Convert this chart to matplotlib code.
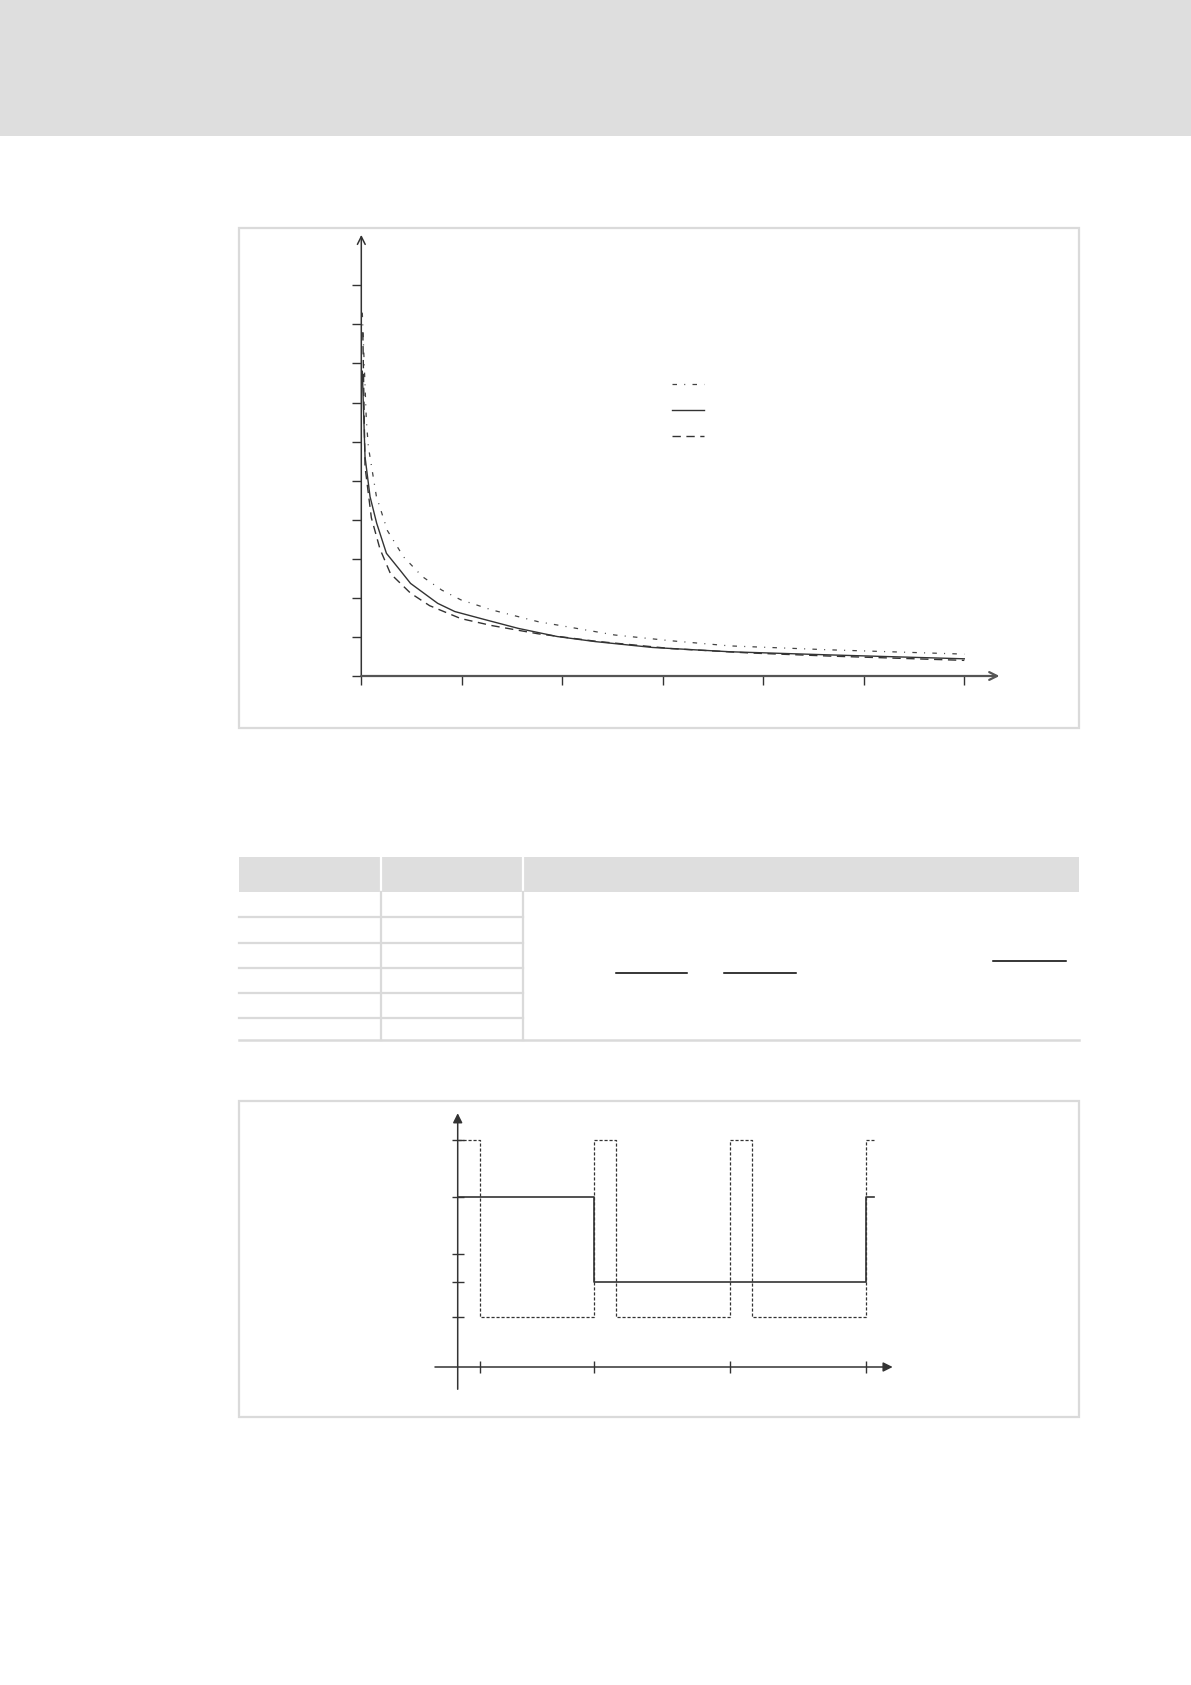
import numpy as np
import matplotlib
matplotlib.use("Agg")
import matplotlib.pyplot as plt
from matplotlib.patches import Rectangle

W, H = 1191, 1685
GRAY = '#dedede'
LINE = '#dadada'
INK = '#333333'

# --- Diagramm 1: drei fallende Kennlinien (Achsen 0..6 / 0..10) ---
x_ticks_1 = [0, 1, 2, 3, 4, 5, 6]
y_ticks_1 = [0, 1, 2, 3, 4, 5, 6, 7, 8, 9, 10]

x_dashdot = [0.01, 0.05, 0.07, 0.15, 0.26, 0.42, 0.61, 0.80, 0.99, 1.30, 1.76, 2.14, 2.52, 3.09, 3.67, 4.66, 6.0]
y_dashdot = [9.3, 6.55, 5.87, 4.6, 3.72, 3.05, 2.54, 2.20, 1.95, 1.69, 1.39, 1.22, 1.05, 0.90, 0.77, 0.67, 0.56]

x_solid = [0.01, 0.037, 0.087, 0.153, 0.25, 0.385, 0.49, 0.76, 0.93, 1.22, 1.56, 1.95, 2.33, 2.90, 3.67, 4.66, 6.0]
y_solid = [7.8, 5.61, 4.59, 3.91, 3.14, 2.71, 2.37, 1.86, 1.65, 1.45, 1.22, 1.01, 0.88, 0.73, 0.62, 0.54, 0.44]

x_dashed = [0.015, 0.037, 0.10, 0.186, 0.29, 0.49, 0.68, 0.99, 1.30, 1.76, 2.33, 3.09, 3.86, 4.66, 6.0]
y_dashed = [8.8, 5.36, 4.05, 3.25, 2.62, 2.12, 1.80, 1.47, 1.29, 1.08, 0.89, 0.70, 0.59, 0.51, 0.40]

# --- Diagramm 2: Taktsignal und Mittelwert ---
x_ticks_2 = [1.66, 10, 20, 30]
y_ticks_2 = [100, 75, 50, 37.3, 21.9]
t_pulse = [0, 1.66, 10, 11.66, 20, 21.65, 30, 30.6]
v_pulse = [100, 21.9, 100, 21.9, 100, 21.9, 100, 100]
t_mean = [0, 10, 30, 30.6]
v_mean = [75, 37.3, 75, 75]

# --- Tabelle (ohne Text) ---
table_cols = [238.6, 380.7, 522.7, 1079]
table_rows = [891.7, 917.3, 942.7, 967.7, 992.7, 1017.7, 1040.3]


def px_axes(fig, x0, x1, y0, y1):
    return fig.add_axes([x0 / W, 1 - y1 / H, (x1 - x0) / W, (y1 - y0) / H])


def origin_spines(ax):
    # Ticks am Nullpunkt, Achslinien selbst kommen als Pfeile
    for s in ['top', 'right']:
        ax.spines[s].set_visible(False)
    for s in ['left', 'bottom']:
        ax.spines[s].set_position(('data', 0))
        ax.spines[s].set_color('none')
    ax.patch.set_alpha(0)
    ax.set_xticklabels([])
    ax.set_yticklabels([])


fig = plt.figure(figsize=(W / 100, H / 100), dpi=100)

# Seitenebene in Pixelkoordinaten
page = fig.add_axes([0, 0, 1, 1])
page.set_xlim(0, W)
page.set_ylim(H, 0)
page.axis('off')

page.add_patch(Rectangle((0, 0), W, 135.7, color=GRAY, lw=0))
page.add_patch(Rectangle((238.6, 228.5), 840.4, 500, fill=False, ec=LINE, lw=1.6))
page.add_patch(Rectangle((238.6, 1101), 840.4, 316, fill=False, ec=LINE, lw=1.6))

# Tabellenkopf
page.add_patch(Rectangle((table_cols[0], 857.3), table_cols[-1] - table_cols[0], 891.7 - 857.3,
                         color=GRAY, lw=0))
for c in table_cols[1:-1]:
    page.plot([c, c], [857.3, 891.7], color='white', lw=1.6)
    page.plot([c, c], [891.7, table_rows[-1]], color=LINE, lw=1.6)
for r in table_rows[1:-1]:
    page.plot([table_cols[0], table_cols[2]], [r, r], color=LINE, lw=1.6)
page.plot([table_cols[0], table_cols[-1]], [table_rows[-1], table_rows[-1]], color=LINE, lw=1.8)

# Bruchstriche in der Formelspalte
for xa, xb, yy in [(616, 687.3, 973.3), (724, 795.7, 973.3), (993.3, 1066, 961)]:
    page.plot([xa, xb], [yy, yy], color='black', lw=1.1)

# ---------------- Diagramm 1 ----------------
ax1 = px_axes(fig, 330, 1010, 230, 690)
ax1.set_xlim((330 - 361.3) / 100.5, (1010 - 361.3) / 100.5)
ax1.set_ylim((676 - 690) / 39.07, (676 - 230) / 39.07)
ax1.set_xticks(x_ticks_1)
ax1.set_yticks(y_ticks_1)
origin_spines(ax1)
ax1.tick_params(direction='out', length=6.5, width=1.0, color=INK)

ax1.annotate('', xy=(0, 11.29), xytext=(0, 0),
             arrowprops=dict(arrowstyle='->', color=INK, lw=1.1, shrinkA=0, shrinkB=0,
                             mutation_scale=14))
ax1.annotate('', xy=(6.35, 0), xytext=(0, 0),
             arrowprops=dict(arrowstyle='->', color='#555555', lw=1.6, shrinkA=0, shrinkB=0,
                             mutation_scale=14))

l1, = ax1.plot(x_dashdot, y_dashdot, color='#444444', lw=0.9, ls=(0, (3.6, 5.8, 0.8, 5.8)))
l2, = ax1.plot(x_solid, y_solid, color=INK, lw=1.0, ls='-')
l3, = ax1.plot(x_dashed, y_dashed, color=INK, lw=1.0, ls=(0, (6, 4)))

fig.legend([l1, l2, l3], [' ', ' ', ' '], loc='center left',
           bbox_to_anchor=(672 / W, 1 - 411 / H), frameon=False, fontsize=10,
           handlelength=2.3, labelspacing=0.85, borderpad=0, borderaxespad=0)

# ---------------- Diagramm 2 ----------------
ax2 = px_axes(fig, 420, 910, 1105, 1400)
ax2.set_xlim((420 - 457.7) / 13.61, (910 - 457.7) / 13.61)
ax2.set_ylim((1367 - 1400) / 2.27, (1367 - 1105) / 2.27)
ax2.set_xticks(x_ticks_2)
ax2.set_yticks(y_ticks_2)
origin_spines(ax2)
ax2.tick_params(direction='inout', length=8, width=1.0, color=INK)

ax2.annotate('', xy=(0, 111.8), xytext=(0, -9.8),
             arrowprops=dict(arrowstyle='-|>', color=INK, lw=1.1, shrinkA=0, shrinkB=0,
                             mutation_scale=14))
ax2.annotate('', xy=(31.96, 0), xytext=(-1.67, 0),
             arrowprops=dict(arrowstyle='-|>', color=INK, lw=1.1, shrinkA=0, shrinkB=0,
                             mutation_scale=14))

ax2.step(t_pulse, v_pulse, where='post', color=INK, lw=0.9, ls=(0, (2.5, 1.5)))
ax2.step(t_mean, v_mean, where='post', color=INK, lw=1.2)

fig.savefig('out.png', dpi=100)
